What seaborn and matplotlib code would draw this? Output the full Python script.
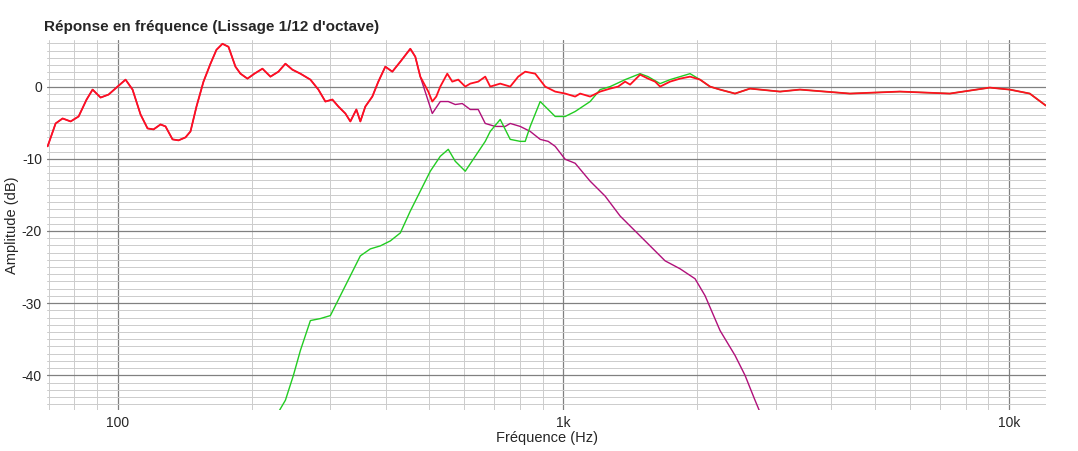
import numpy as np
import matplotlib.pyplot as plt
import seaborn as sns
from matplotlib.ticker import FixedLocator, MultipleLocator, NullFormatter

# pixel reads converted to (Hz, dB)
def conv(pts):
    x = np.array([p[0] for p in pts], float)
    y = np.array([p[1] for p in pts], float)
    return 10 ** (2 + (x - 117) / 446), (85 - y) / 7.25

sum_px = [(47,145),(55,122),(62,117),(70,120),(78,115),(86,98),(92,88),(100,96),(108,93),(117,85),
          (125,78),(132,88),(140,113),(147,127),(153,128),(160,123),(165,125),(172,138),(178,139),
          (185,136),(190,130),(196,105),(203,80),(210,62),(216,48),(222,42),(228,45),(235,65),
          (240,72),(247,77),(254,72),(262,67),(270,75),(278,70),(285,62),(292,68),(300,72),(310,78),
          (318,88),(325,100),(332,98),(338,105),(345,112),(350,120),(356,108),(360,120),(365,105),
          (372,95),(378,80),(385,65),(392,70),(400,60),(410,47),(415,55),(420,75),(428,90),(432,100),
          (436,95),(440,85),(447,72),(452,80),(458,78),(465,85),(470,82),(478,80),(485,75),(490,85),
          (500,82),(510,85),(518,75),(525,70),(535,72),(545,85),(555,90),(565,92),(575,95),(580,92),
          (590,95),(600,90),(610,87),(618,85),(625,80),(630,83),(640,73),(648,77),(655,80),(660,85),
          (670,80),(680,77),(690,75),(700,78),(710,85),(720,88),(735,92),(750,87),(780,90),(800,88),
          (850,92),(900,90),(950,92),(990,86),(1010,88),(1030,92),(1046,104)]
woofer_px = sum_px[:55] + [(432,112),(440,100),(448,100),(455,103),(462,102),(470,108),(478,108),
          (485,122),(495,125),(505,125),(510,122),(520,125),(530,130),(540,138),(548,140),(555,145),
          (565,158),(575,162),(590,180),(605,195),(620,215),(635,230),(650,245),(665,260),(680,268),
          (695,278),(705,295),(720,330),(735,355),(745,375),(755,400),(760,412)]
tweeter_px = [(278,412),(285,400),(293,375),(300,350),(310,320),(320,318),(330,315),(340,295),
          (350,275),(360,255),(370,248),(380,245),(390,240),(400,232),(410,210),(420,190),(430,170),
          (440,155),(448,148),(455,160),(465,170),(475,155),(485,140),(490,130),(500,118),(510,138),
          (520,140),(525,140),(530,125),(540,100),(545,105),(555,115),(565,115),(575,110),(590,100),
          (600,88),(610,85),(625,78),(640,72),(648,75),(660,82),(670,78),(690,72),(700,78)] + \
          [p for p in sum_px if p[0] > 700]

sum_f, sum_db = conv(sum_px)
woof_f, woof_db = conv(woofer_px)
tw_f, tw_db = conv(tweeter_px)

sns.set_style("white")
plt.rcParams['font.family'] = ['Liberation Sans', 'DejaVu Sans']
plt.rcParams['axes.unicode_minus'] = False
fig, ax = plt.subplots(figsize=(10.78, 4.51), dpi=100)
fig.subplots_adjust(left=0.044, right=0.970, top=0.912, bottom=0.091)

sns.lineplot(x=woof_f, y=woof_db, ax=ax, color='#b0107a', lw=1.0, sort=False)
sns.lineplot(x=tw_f, y=tw_db, ax=ax, color='#22cc22', lw=1.0, sort=False)
sns.lineplot(x=sum_f, y=sum_db, ax=ax, color='#ff1020', lw=1.3, sort=False)

ax.set_xscale('log')
ax.set_xlim(69.6, 12100)
ax.set_ylim(-44.8, 6.5)
ax.set_xticks([100, 1000, 10000])
ax.set_xticklabels(['100', '1k', '10k'])
ax.xaxis.set_minor_locator(FixedLocator([m * 10 ** e for e in range(1, 5) for m in range(2, 10)]))
ax.xaxis.set_minor_formatter(NullFormatter())
ax.yaxis.set_major_locator(MultipleLocator(10))
ax.yaxis.set_minor_locator(MultipleLocator(1))
ax.grid(which='major', color='#808080', lw=0.9)
ax.grid(which='minor', color='#cccccc', lw=0.7)
ax.set_axisbelow(True)
for s in ax.spines.values():
    s.set_visible(False)
ax.tick_params(which='both', length=0, labelsize=10, pad=4)
ax.set_xlabel('Fréquence (Hz)', fontsize=10.5, labelpad=1)
ax.set_ylabel('Amplitude (dB)', fontsize=10.5, labelpad=2)
ax.set_title("Réponse en fréquence (Lissage 1/12 d'octave)", loc='left', fontsize=11,
             fontweight='bold', x=-0.003, pad=6)
fig.savefig('out.png')
